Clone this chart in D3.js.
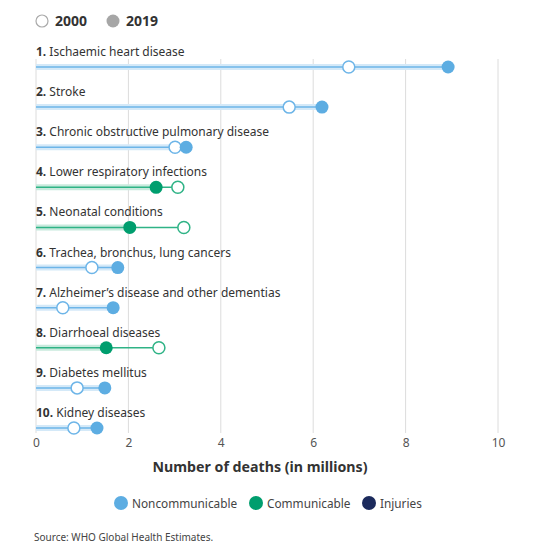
<!DOCTYPE html>
<html>
<head>
<meta charset="utf-8">
<script src="https://cdn.jsdelivr.net/npm/d3@7"></script>
<style>
  body { margin: 0; background: #fff; }
  text { font-family: "Noto Sans", "Open Sans", sans-serif; }
</style>
</head>
<body>
<script>
// top 10 causes of death, number of deaths in millions
const causes = [
    'Ischaemic heart disease',
    'Stroke',
    'Chronic obstructive pulmonary disease',
    'Lower respiratory infections',
    'Neonatal conditions',
    'Trachea, bronchus, lung cancers',
    'Alzheimer\u2019s disease and other dementias',
    'Diarrhoeal diseases',
    'Diabetes mellitus',
    'Kidney diseases'
];
const deaths2000 = [6.77, 5.48, 3.01, 3.07, 3.20, 1.21, 0.58, 2.66, 0.89, 0.82];
const deaths2019 = [8.92, 6.19, 3.25, 2.60, 2.03, 1.77, 1.67, 1.52, 1.49, 1.32];
const groups = ['Noncommunicable', 'Noncommunicable', 'Noncommunicable', 'Communicable', 'Communicable',
    'Noncommunicable', 'Noncommunicable', 'Communicable', 'Noncommunicable', 'Noncommunicable'];

const groupNames = ['Noncommunicable', 'Communicable', 'Injuries'];
const xTicks = [0, 2, 4, 6, 8, 10];

const COLORS = {
    Noncommunicable: { dot: '#5dade2', line: '#6db5e8', band: '#d4e9f8' },
    Communicable: { dot: '#009e6e', line: '#2fb386', band: '#c8eadd' },
    Injuries: { dot: '#1b2a5c', line: '#1b2a5c', band: '#c9cfe0' }
};

const DIMS = { width: 548, height: 554, left: 36, right: 50, rowTop: 67, rowBottom: 428 };

const svg = d3.select('body').append('svg')
    .attr('width', DIMS.width)
    .attr('height', DIMS.height);

const x = d3.scaleLinear().domain([0, 10]).range([DIMS.left, 498]);
const y = d3.scalePoint().domain(causes).range([DIMS.rowTop, DIMS.rowBottom]);

// top legend (years)
const yearLegend = svg.append('g');
yearLegend.append('circle').attr('cx', 42).attr('cy', 21).attr('r', 6)
    .attr('fill', '#fff').attr('stroke', '#aaa').attr('stroke-width', 1.2);
yearLegend.append('text').attr('x', 55).attr('y', 26).text('2000')
    .style('font-size', '14px').style('font-weight', 'bold').attr('fill', '#333');
yearLegend.append('circle').attr('cx', 113).attr('cy', 21).attr('r', 6.5)
    .attr('fill', '#a6a6a6');
yearLegend.append('text').attr('x', 126).attr('y', 26).text('2019')
    .style('font-size', '14px').style('font-weight', 'bold').attr('fill', '#333');

// vertical grid lines
svg.append('g')
    .selectAll('line')
    .data(xTicks)
    .join('line')
    .attr('x1', d => x(d)).attr('x2', d => x(d))
    .attr('y1', 59).attr('y2', 433)
    .attr('stroke', '#dcdcdc')
    .attr('stroke-width', 1);

// x axis labels
const xAxis = d3.axisBottom(x).tickValues(xTicks).tickSize(0).tickPadding(0);
const xAxisGroup = svg.append('g')
    .attr('transform', 'translate(0, 438)')
    .call(xAxis);
xAxisGroup.select('.domain').remove();
xAxisGroup.selectAll('text')
    .style('font-size', '12px')
    .style('font-family', '"Noto Sans", sans-serif')
    .attr('fill', '#555');

svg.append('text')
    .attr('x', 260).attr('y', 472)
    .attr('text-anchor', 'middle')
    .style('font-size', '14.2px').style('font-weight', 'bold')
    .attr('fill', '#333')
    .text('Number of deaths (in millions)');

// rows
const rows = causes.map((c, i) => ({
    cause: c, rank: i + 1, v2000: deaths2000[i], v2019: deaths2019[i], group: groups[i]
}));

const row = svg.append('g').selectAll('g')
    .data(rows)
    .join('g');

row.append('text')
    .attr('x', DIMS.left)
    .attr('y', d => y(d.cause) - 11)
    .style('font-size', '12px')
    .attr('fill', '#333')
    .call(t => t.append('tspan').style('font-weight', 'bold').text(d => d.rank + '. '))
    .call(t => t.append('tspan').text(d => d.cause));

// light band from 0 to the 2019 value
row.append('line')
    .attr('x1', x(0)).attr('x2', d => x(d.v2019))
    .attr('y1', d => y(d.cause)).attr('y2', d => y(d.cause))
    .attr('stroke', d => COLORS[d.group].band)
    .attr('stroke-width', 6);

// thin line from 0 to the larger value
row.append('line')
    .attr('x1', x(0)).attr('x2', d => x(Math.max(d.v2000, d.v2019)))
    .attr('y1', d => y(d.cause)).attr('y2', d => y(d.cause))
    .attr('stroke', d => COLORS[d.group].line)
    .attr('stroke-width', 1.5);

row.append('circle')
    .attr('cx', d => x(d.v2000)).attr('cy', d => y(d.cause))
    .attr('r', 6)
    .attr('fill', '#fff')
    .attr('stroke', d => COLORS[d.group].line)
    .attr('stroke-width', 1.5);

row.append('circle')
    .attr('cx', d => x(d.v2019)).attr('cy', d => y(d.cause))
    .attr('r', 6.5)
    .attr('fill', d => COLORS[d.group].dot);

// bottom legend (groups)
const legendX = [121, 256, 369];
const legend = svg.append('g').selectAll('g')
    .data(groupNames)
    .join('g')
    .attr('transform', (d, i) => `translate(${legendX[i]}, 503)`);
legend.append('circle').attr('r', 7).attr('fill', d => COLORS[d].dot);
legend.append('text').attr('x', 11).attr('y', 4.5)
    .style('font-size', '11.8px').attr('fill', '#444')
    .text(d => d);

svg.append('text')
    .attr('x', 34).attr('y', 541)
    .style('font-size', '10px').attr('fill', '#444')
    .text('Source: WHO Global Health Estimates.');
</script>
</body>
</html>
